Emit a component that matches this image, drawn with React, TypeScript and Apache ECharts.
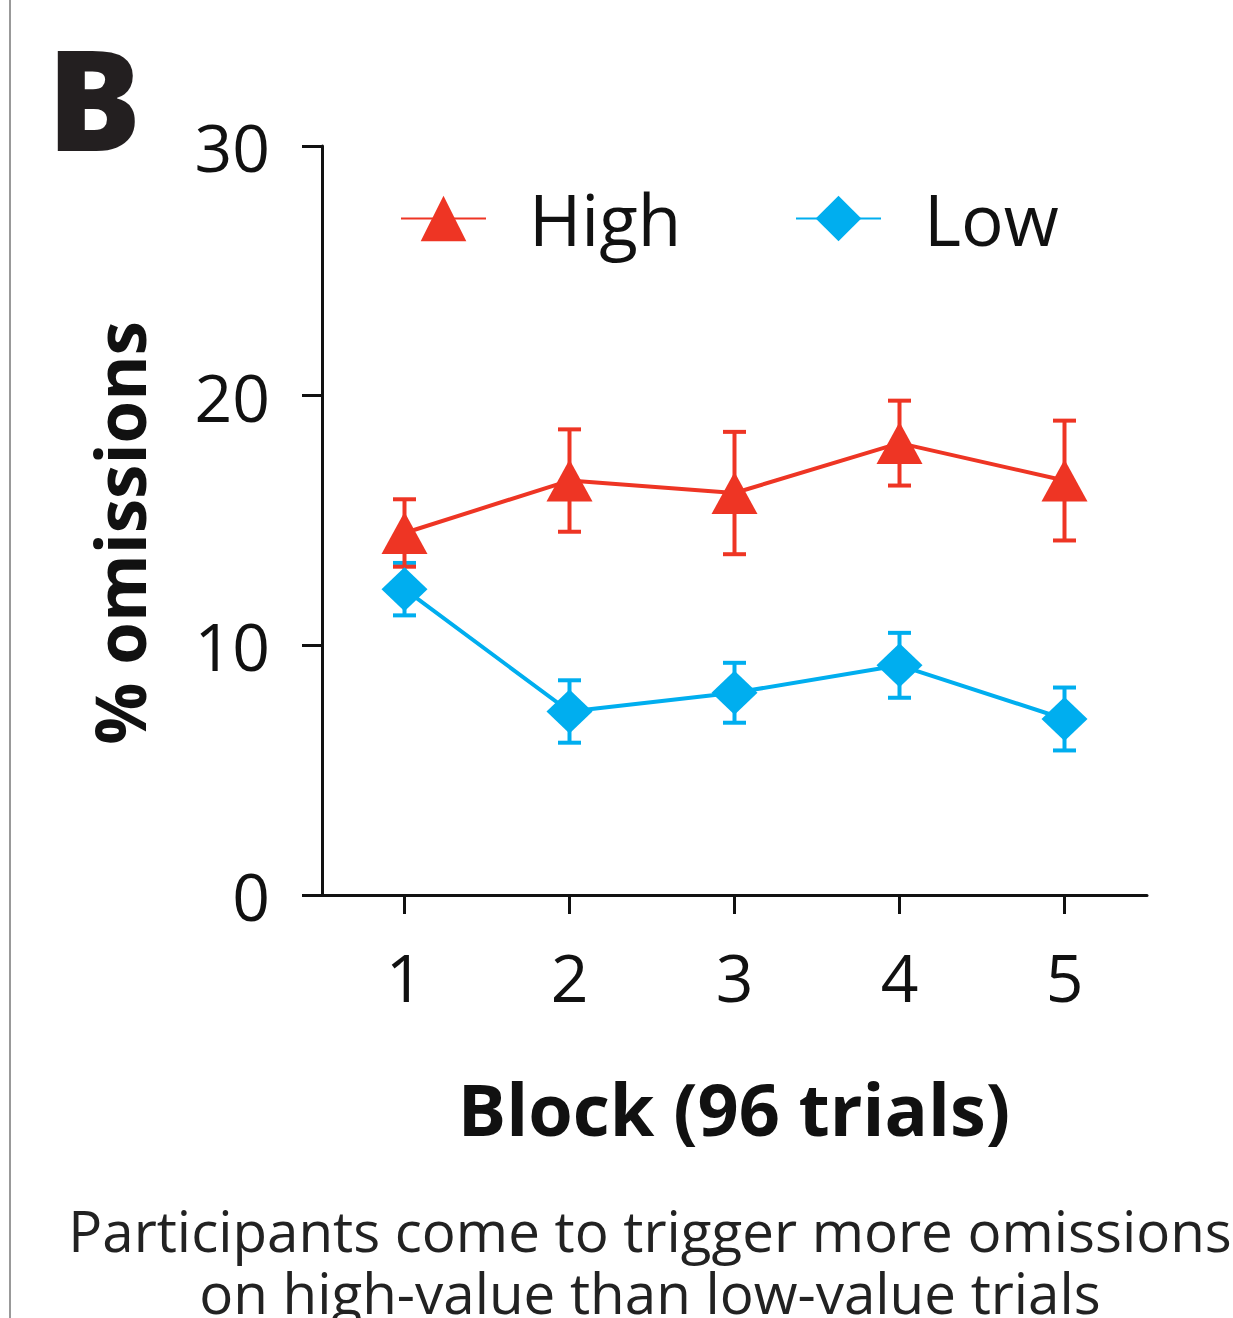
import React, { useEffect, useRef } from "react";
import * as echarts from "echarts";

const blocks = ["1", "2", "3", "4", "5"];
const highMean = [14.5, 16.6, 16.1, 18.1, 16.6];
const highSem = [1.35, 2.05, 2.45, 1.7, 2.4];
const lowMean = [12.25, 7.35, 8.1, 9.2, 7.05];
const lowSem = [1.05, 1.25, 1.2, 1.3, 1.26];
const yTicks = { min: 0, max: 30, interval: 10 };

const RED = "#EE3524";
const BLUE = "#00AEEF";
const FONT = "Open Sans";

function errData(mean: number[], sem: number[]) {
  return mean.map((m, i) => [i, m - sem[i], m + sem[i]]);
}

function errRender(color: string) {
  return (params: any, api: any) => {
    const x = api.value(0);
    const lo = api.coord([x, api.value(1)]);
    const hi = api.coord([x, api.value(2)]);
    const hw = 11.5;
    const style = { stroke: color, lineWidth: 4 };
    return {
      type: "group",
      children: [
        { type: "line", shape: { x1: lo[0], y1: lo[1], x2: hi[0], y2: hi[1] }, style },
        { type: "line", shape: { x1: lo[0] - hw, y1: lo[1], x2: lo[0] + hw, y2: lo[1] }, style },
        { type: "line", shape: { x1: hi[0] - hw, y1: hi[1], x2: hi[0] + hw, y2: hi[1] }, style },
      ],
    };
  };
}

export default function App() {
  const ref = useRef<HTMLDivElement>(null);
  useEffect(() => {
    document.body.style.margin = "0";
    const chart = echarts.init(ref.current!, null, { renderer: "svg" });
    const legendCommon = {
      orient: "horizontal",
      itemWidth: 85,
      itemHeight: 57,
      padding: 0,
      selectedMode: false,
      textStyle: { fontFamily: FONT, fontSize: 71, color: "#111", padding: [0, 0, 0, 38] },
    };
    chart.setOption({
      animation: false,
      backgroundColor: "#fff",
      textStyle: { fontFamily: FONT },
      grid: { left: 322, right: 86, top: 146, bottom: 423, containLabel: false },
      legend: [
        { ...legendCommon, data: ["High"], left: 400, top: 183 },
        { ...legendCommon, data: ["Low"], left: 795, top: 183 },
      ],
      xAxis: {
        type: "category",
        data: blocks,
        boundaryGap: true,
        axisLine: { show: true, lineStyle: { color: "#111", width: 3 } },
        axisTick: { show: true, alignWithLabel: true, length: 19, lineStyle: { color: "#111", width: 3 } },
        axisLabel: { fontFamily: FONT, fontSize: 66, color: "#111", margin: 48 },
        splitLine: { show: false },
      },
      yAxis: {
        type: "value",
        min: yTicks.min,
        max: yTicks.max,
        interval: yTicks.interval,
        axisLine: { show: true, lineStyle: { color: "#111", width: 3 } },
        axisTick: { show: true, length: 20, lineStyle: { color: "#111", width: 3 } },
        axisLabel: { fontFamily: FONT, fontSize: 66, color: "#111", margin: 52 },
        splitLine: { show: false },
      },
      graphic: [
        { type: "line", shape: { x1: 10, y1: 0, x2: 10, y2: 1318 }, style: { stroke: "#999", lineWidth: 2 } },
        {
          type: "text", x: 47, y: 96,
          style: { text: "B", fontFamily: FONT, fontWeight: 800, fontSize: 140, fill: "#231f20", textVerticalAlign: "middle" },
        },
        {
          type: "text", x: 119, y: 533, rotation: Math.PI / 2,
          style: { text: "% omissions", fontFamily: FONT, fontWeight: "bold", fontSize: 69, fill: "#111", textAlign: "center", textVerticalAlign: "middle" },
        },
        {
          type: "text", x: 734, y: 1108,
          style: { text: "Block (96 trials)", fontFamily: FONT, fontWeight: "bold", fontSize: 72, fill: "#111", textAlign: "center", textVerticalAlign: "middle" },
        },
        {
          type: "text", x: 650, y: 1261,
          style: {
            text: "Participants come to trigger more omissions\non high-value than low-value trials",
            fontFamily: FONT, fontSize: 56.5, lineHeight: 62, fill: "#222", textAlign: "center", textVerticalAlign: "middle",
          },
        },
      ],
      series: [
        {
          type: "custom", name: "LowErr", data: errData(lowMean, lowSem), renderItem: errRender(BLUE), z: 1,
          encode: { x: 0, y: [1, 2] }, silent: true,
        },
        {
          type: "custom", name: "HighErr", data: errData(highMean, highSem), renderItem: errRender(RED), z: 2,
          encode: { x: 0, y: [1, 2] }, silent: true,
        },
        {
          type: "line", name: "Low", data: lowMean, z: 3,
          symbol: "diamond", symbolSize: [46, 44],
          lineStyle: { color: BLUE, width: 4 }, itemStyle: { color: BLUE },
        },
        {
          type: "line", name: "High", data: highMean, z: 4,
          symbol: "triangle", symbolSize: [46, 42],
          lineStyle: { color: RED, width: 4 }, itemStyle: { color: RED },
        },
      ],
    });
    return () => chart.dispose();
  }, []);
  return <div ref={ref} style={{ position: "absolute", left: 0, top: 0, width: 1233, height: 1318 }} />;
}
